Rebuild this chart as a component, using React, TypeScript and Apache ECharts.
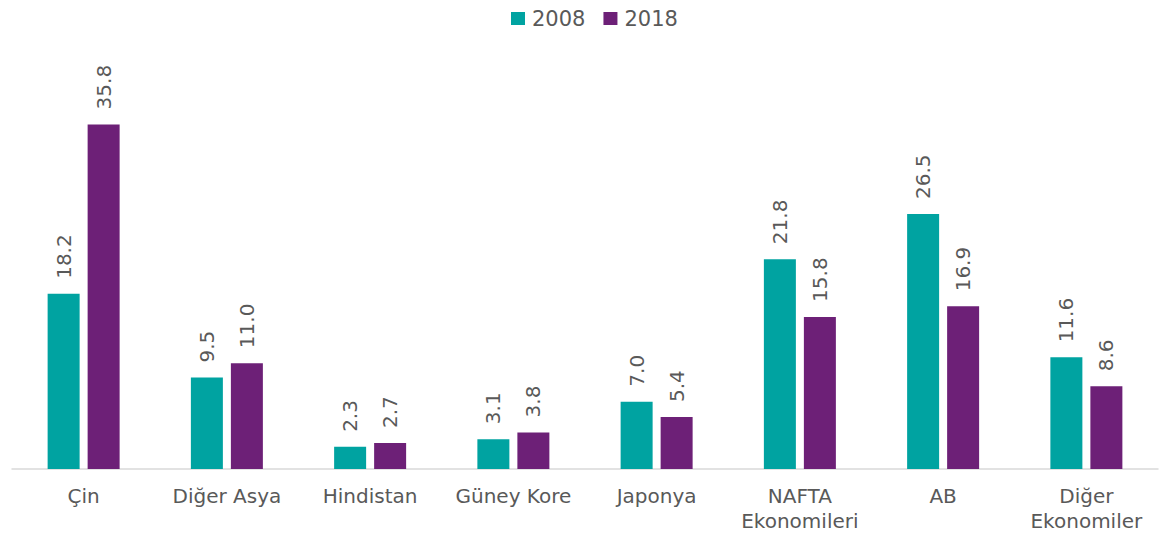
import React, { useEffect, useRef } from "react";
import * as echarts from "echarts";

const categories = ["Çin", "Diğer Asya", "Hindistan", "Güney Kore", "Japonya", "NAFTA\nEkonomileri", "AB", "Diğer\nEkonomiler"];
const seriesNames = ["2008", "2018"];
const values2008 = [18.2, 9.5, 2.3, 3.1, 7.0, 21.8, 26.5, 11.6];
const values2018 = [35.8, 11.0, 2.7, 3.8, 5.4, 15.8, 16.9, 8.6];

const FONT = "DejaVu Sans";
const TEXT = "#595959";

export default function App() {
  const ref = useRef<HTMLDivElement>(null);
  useEffect(() => {
    if (!ref.current) return;
    const chart = echarts.init(ref.current, undefined, { renderer: "svg" });
    const label = {
      show: true,
      position: "top",
      rotate: 90,
      align: "left",
      verticalAlign: "middle",
      distance: 15,
      color: TEXT,
      fontFamily: FONT,
      fontSize: 20,
      formatter: (p: any) => Number(p.value).toFixed(1),
    };
    chart.setOption({
      animation: false,
      backgroundColor: "#ffffff",
      textStyle: { fontFamily: FONT },
      legend: {
        left: 506,
        top: 3,
        itemWidth: 14,
        itemHeight: 13,
        itemGap: 18,
        icon: "rect",
        textStyle: { color: TEXT, fontFamily: FONT, fontSize: 21, padding: [0, 0, 0, 2] },
        data: seriesNames,
      },
      grid: { left: 12, right: 5, top: 84, bottom: 66, containLabel: false },
      xAxis: {
        type: "category",
        data: categories,
        axisLine: { show: true, lineStyle: { color: "#d9d9d9", width: 1.5 } },
        axisTick: { show: false },
        axisLabel: { color: TEXT, fontFamily: FONT, fontSize: 20, lineHeight: 25, margin: 14, interval: 0 },
      },
      yAxis: {
        type: "value",
        min: 0,
        max: 40,
        show: false,
        splitLine: { show: false },
      },
      series: [
        {
          name: seriesNames[0],
          type: "bar",
          data: values2008,
          barWidth: 32,
          barGap: "25%",
          itemStyle: { color: "#00a3a1" },
          label,
        },
        {
          name: seriesNames[1],
          type: "bar",
          data: values2018,
          barWidth: 32,
          barGap: "25%",
          itemStyle: { color: "#6d2077" },
          label,
        },
      ],
    });
    return () => chart.dispose();
  }, []);
  return (
    <div
      ref={ref}
      style={{ position: "absolute", left: 0, top: 0, width: 1163, height: 535 }}
    />
  );
}
